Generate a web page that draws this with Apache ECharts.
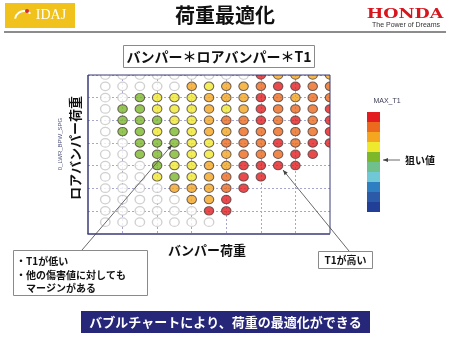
<!DOCTYPE html>
<html>
<head>
<meta charset="utf-8">
<script src="https://cdn.jsdelivr.net/npm/echarts@6/dist/echarts.min.js"></script>
<style>
  html, body { margin: 0; padding: 0; background: #fff; }
  #chart { width: 450px; height: 338px; }
</style>
</head>
<body>
<div id="chart"></div>
<script>
// ============================================================
// データ
// ============================================================

// バンパー荷重 / ロアバンパー荷重 の水準 (0 = 軸)
var BUMPER_LEVELS = ['0', '1', '2', '3', '4', '5', '6', '7', '8', '9', '10', '11', '12', '13', '14'];
var LOWER_LEVELS = ['0', '1', '2', '3', '4', '5', '6', '7', '8', '9', '10', '11', '12', '13', '14'];

// MAX_T1 の判定結果: 上の行 (ロア=14) から下 (ロア=1)、列はバンパー=1..14
// R 赤, O 橙, L 薄橙, Y 黄, G 緑, e 白丸, - 点なし
var T1_ROWS = [
  'eeeeeeeeeRLLLL',
  'eeeeeLYLLORROO',
  'eeGYYYLLLROLOO',
  'eGGYYYLYLROOOR',
  'eGGGYYLOOROROR',
  'eGGYGYLLOOOOOR',
  'eeGGGYYOOORORR',
  'eeGGGYYLOOORR-',
  'eeeGYYLLRRRR--',
  'eeeYGYLORR----',
  'eeeeLLLOR-----',
  'eeeeeLLR------',
  'eeeeeeRR------',
  'eeeeeee-------'
];

// 記号 → T1 レベル (10 = MAX)
var CODE_LEVEL = { R: 10, O: 9, L: 8, Y: 7, G: 6 };

// 凡例のレベルと色 (低 → 高)
var LEVELS = [1, 2, 3, 4, 5, 6, 7, 8, 9, 10];
var LEVEL_COLORS = ['#223f98', '#2a5aa8', '#2e7ec2', '#70c8d6', '#6fc08c',
                    '#7cb82a', '#efe92e', '#f4a620', '#ec6a1e', '#e31d1f'];

var FONT = '"Noto Sans CJK JP", "Noto Sans", sans-serif';
var NAVY = '#3b3b78';

// プロット領域
var GRID = { left: 88, top: 75, width: 242, height: 158.5 };

// ============================================================
// 系列データの組み立て
// ============================================================

var colored = [];
var empty = [];
T1_ROWS.forEach(function(row, r) {
  var y = T1_ROWS.length - r;
  row.split('').forEach(function(code, c) {
    var x = c + 1;
    if (CODE_LEVEL[code]) colored.push([x, y, CODE_LEVEL[code]]);
    else if (code === 'e') empty.push([x, y]);
  });
});

// ============================================================
// 注釈
// ============================================================

function arrow(x1, y1, x2, y2, color) {
  var ang = Math.atan2(y2 - y1, x2 - x1);
  var len = 5, half = 2;
  var bx = x2 - len * Math.cos(ang), by = y2 - len * Math.sin(ang);
  var px = -Math.sin(ang) * half, py = Math.cos(ang) * half;
  return [
    { type: 'line', z: 20, shape: { x1: x1, y1: y1, x2: x2, y2: y2 },
      style: { stroke: color, lineWidth: 0.8 } },
    { type: 'polygon', z: 20, shape: { points: [[x2, y2], [bx + px, by + py], [bx - px, by - py]] },
      style: { fill: color } }
  ];
}

function label(text, x, y, size, opts) {
  opts = opts || {};
  return {
    type: 'text', x: x, y: y, z: 20, rotation: opts.rotation || 0,
    style: {
      text: text, fill: opts.color || '#111', fontSize: size,
      fontWeight: opts.weight || 'bold', fontFamily: opts.family || FONT,
      align: opts.align || 'center', verticalAlign: 'middle'
    }
  };
}

var gRight = GRID.left + GRID.width;
var gBottom = GRID.top + GRID.height;

var graphics = [
  // 枠の外にはみ出した丸を隠す (元図は枠で切れている)
  { type: 'rect', z: 15, shape: { x: GRID.left - 2, y: GRID.top - 7, width: GRID.width + 18, height: 7 },
    style: { fill: '#fff' } },
  { type: 'rect', z: 15, shape: { x: gRight, y: GRID.top - 7, width: 16, height: GRID.height + 10 },
    style: { fill: '#fff' } },
  { type: 'line', z: 16, shape: { x1: GRID.left, y1: GRID.top, x2: gRight, y2: GRID.top },
    style: { stroke: NAVY, lineWidth: 1 } },
  { type: 'line', z: 16, shape: { x1: gRight, y1: GRID.top, x2: gRight, y2: gBottom },
    style: { stroke: NAVY, lineWidth: 1 } },
  // IDAJ ロゴ
  { type: 'rect', shape: { x: 5, y: 3, width: 70, height: 25 }, style: { fill: '#f1c21b' } },
  { type: 'arc', shape: { cx: 24, cy: 20, r: 9, startAngle: Math.PI * 1.05, endAngle: Math.PI * 1.75 },
    style: { stroke: '#fff', lineWidth: 2, fill: null } },
  { type: 'circle', shape: { cx: 27, cy: 11, r: 2 }, style: { fill: '#d8262c' } },
  label('IDAJ', 51, 15, 14, { color: '#fff', weight: 'normal', family: '"Liberation Serif", serif' }),
  // タイトル
  label('荷重最適化', 225, 15, 20),
  // HONDA
  { type: 'text', x: 405, y: 15, scaleX: 1.35, z: 20,
    style: { text: 'HONDA', fill: '#d7151d', fontSize: 13, fontWeight: 'bold',
             fontFamily: '"DejaVu Serif", serif', align: 'center', verticalAlign: 'middle' } },
  label('The Power of Dreams', 406, 25, 7, { color: '#333', weight: 'normal', family: '"Liberation Sans", sans-serif' }),
  { type: 'rect', shape: { x: 4, y: 31, width: 442, height: 2 }, style: { fill: '#8c8c8c' } },
  // 条件ボックス
  { type: 'rect', shape: { x: 123.5, y: 45.5, width: 191, height: 22 },
    style: { fill: '#fff', stroke: '#8a8a8a', lineWidth: 1 } },
  label('バンパー＊ロアバンパー＊T1', 219, 57, 14),
  // 軸名
  label('ロアバンパー荷重', 75, 148, 13, { rotation: Math.PI / 2 }),
  label('0_LWR_BPW_SPG', 60, 144, 6, { rotation: Math.PI / 2, color: '#555a80', weight: 'normal',
        family: '"Liberation Sans", sans-serif' }),
  label('バンパー荷重', 207, 250, 13),
  // 吹き出し 左
  { type: 'rect', z: 19, shape: { x: 13.5, y: 250.5, width: 134, height: 45 },
    style: { fill: '#fff', stroke: '#8a8a8a', lineWidth: 1 } },
  label('・T1が低い', 16, 261.5, 10, { align: 'left' }),
  label('・他の傷害値に対しても', 16, 275, 10, { align: 'left' }),
  label('マージンがある', 26, 288.5, 10, { align: 'left' }),
  // 吹き出し 右
  { type: 'rect', z: 19, shape: { x: 318.5, y: 251.5, width: 54, height: 17 },
    style: { fill: '#fff', stroke: '#8a8a8a', lineWidth: 1 } },
  label('T1が高い', 345.5, 260.5, 10),
  // 凡例
  label('MAX_T1', 387, 101, 7, { color: '#40405a', weight: 'normal', family: '"Liberation Sans", sans-serif' }),
  label('狙い値', 420, 160, 10, { align: 'center' }),
  // バナー
  { type: 'rect', shape: { x: 81, y: 311, width: 289, height: 22 }, style: { fill: '#27277a' } },
  label('バブルチャートにより、荷重の最適化ができる', 225.5, 322.5, 13, { color: '#fff' })
];
graphics = graphics
  .concat(arrow(82, 250, 172, 145, '#444'))
  .concat(arrow(349, 251, 283, 170, '#444'))
  .concat(arrow(400, 160, 383, 160, '#444'));

// ============================================================
// チャート
// ============================================================

var chart = echarts.init(document.getElementById('chart'));

function evenOnly(index) { return index > 0 && index % 2 === 0; }

chart.setOption({
  animation: false,
  backgroundColor: '#fff',
  grid: {
    left: GRID.left, top: GRID.top, width: GRID.width, height: GRID.height,
    show: false
  },
  xAxis: {
    type: 'category', data: BUMPER_LEVELS, boundaryGap: false,
    axisLine: { lineStyle: { color: NAVY, width: 1.5 } },
    axisTick: { interval: 0, inside: true, length: 4, lineStyle: { color: NAVY } },
    axisLabel: { show: false },
    splitLine: { show: true, interval: evenOnly,
                 lineStyle: { color: '#a6a6d2', type: [2, 2], width: 1 } }
  },
  yAxis: {
    type: 'category', data: LOWER_LEVELS, boundaryGap: false,
    axisLine: { lineStyle: { color: NAVY, width: 1.5 } },
    axisTick: { interval: 0, inside: false, length: 3, lineStyle: { color: NAVY } },
    axisLabel: { show: false },
    splitLine: { show: true, interval: evenOnly,
                 lineStyle: { color: '#a6a6d2', type: [2, 2], width: 1 } }
  },
  visualMap: {
    type: 'piecewise',
    seriesIndex: 1,
    dimension: 2,
    orient: 'vertical',
    left: 367, top: 112, padding: 0,
    itemWidth: 13, itemHeight: 10, itemGap: 0,
    itemSymbol: 'rect',
    showLabel: false,
    selectedMode: false,
    hoverLink: false,
    pieces: LEVELS.map(function(v, i) { return { value: v, color: LEVEL_COLORS[i] }; })
  },
  series: [
    {
      name: 'empty', type: 'scatter', data: empty,
      symbol: 'circle', symbolSize: [9.5, 8.5], silent: true,
      itemStyle: { color: '#fff', borderColor: '#c4c4c4', borderWidth: 1.3 }
    },
    {
      name: 'MAX_T1', type: 'scatter', data: colored,
      symbol: 'circle', symbolSize: [9.5, 8.5], silent: true,
      itemStyle: { borderColor: '#4d4040', borderWidth: 1 }
    }
  ],
  graphic: graphics
});
</script>
</body>
</html>
